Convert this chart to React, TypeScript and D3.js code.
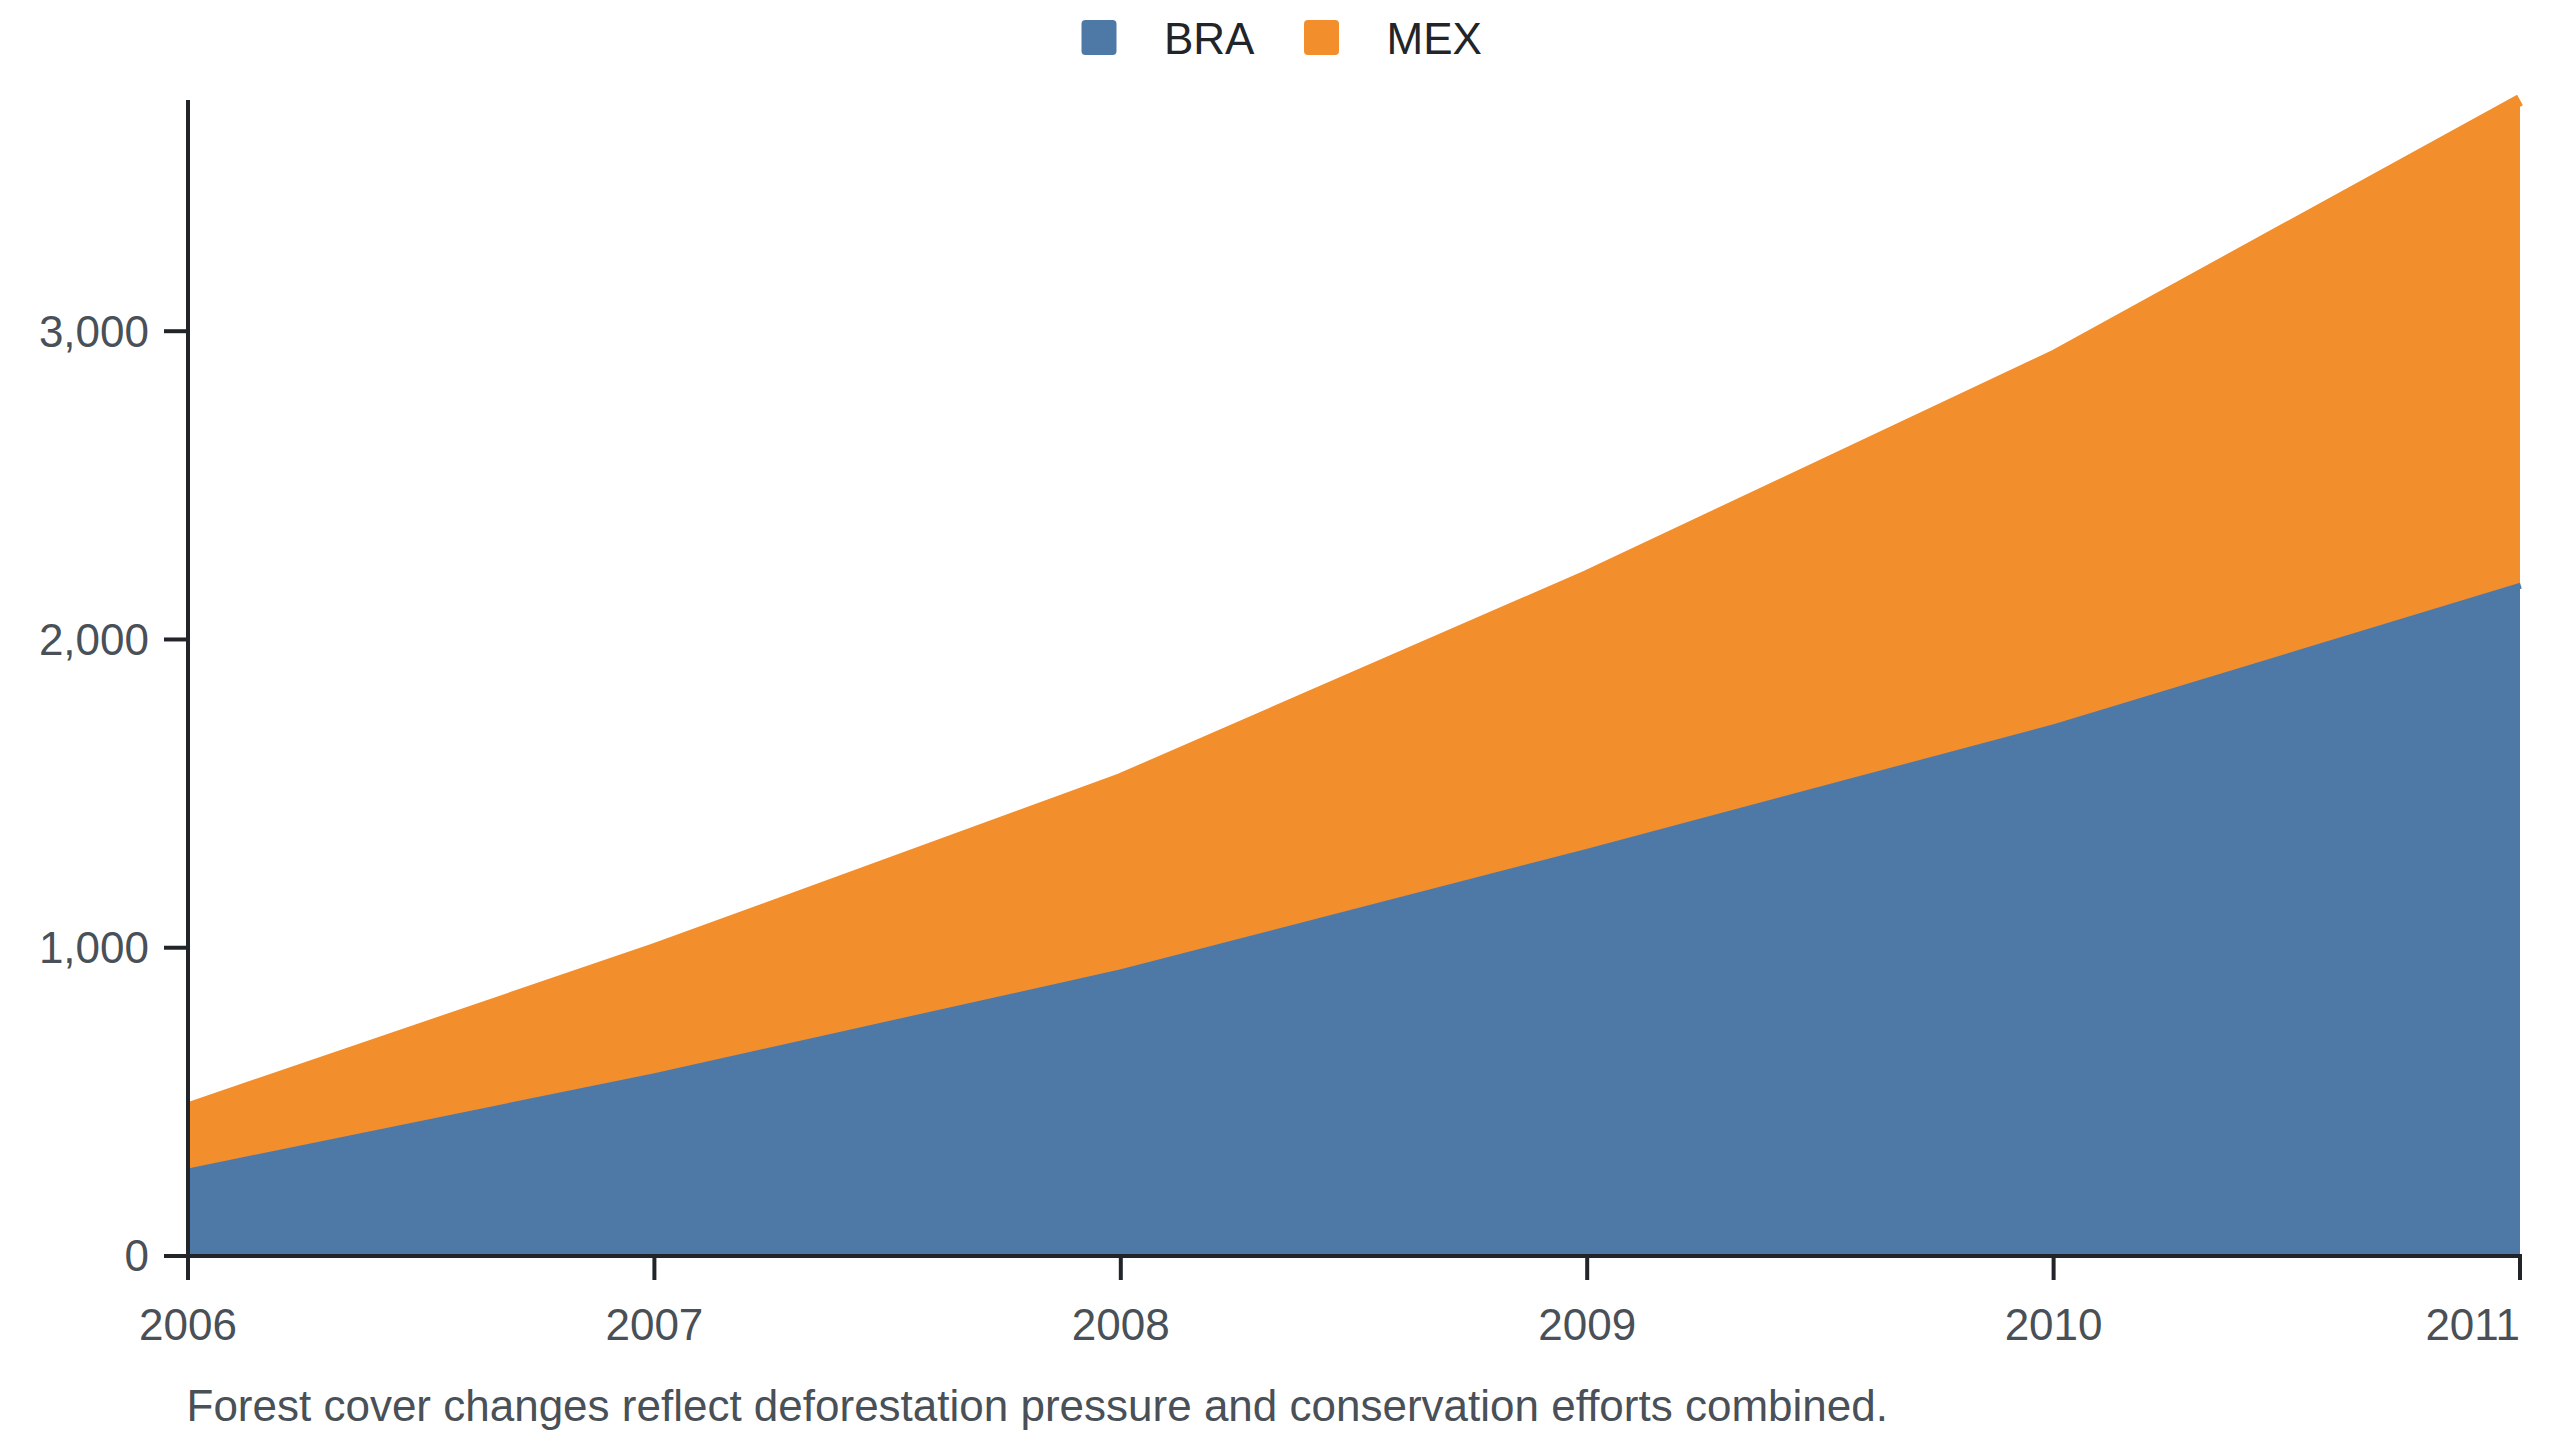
import React from "react";
import * as d3 from "d3";

const years = [2006, 2007, 2008, 2009, 2010, 2011];
const seriesNames = ["BRA", "MEX"];
const braValues = [284, 593, 930, 1321, 1725, 2184];
const mexValues = [195, 402, 617, 885, 1194, 1566];
const yTickValues = [0, 1000, 2000, 3000];
const caption = "Forest cover changes reflect deforestation pressure and conservation efforts combined.";

const colors: Record<string, string> = { BRA: "#4e79a7", MEX: "#f28e2c" };

const W = 2560;
const H = 1440;
const FONT = "'Liberation Sans', Arial, Helvetica, sans-serif";

export default function App() {
  const rows = years.map((y, i) => ({ year: y, BRA: braValues[i], MEX: mexValues[i] }));
  const stack = d3.stack<any>().keys(seriesNames);
  const layers = stack(rows);
  const maxTotal = d3.max(layers[layers.length - 1], (d) => d[1]) as number;

  const x = d3.scaleLinear().domain([years[0], years[years.length - 1]]).range([188, 2520]);
  const y = d3.scaleLinear().domain([0, maxTotal]).range([1256, 100]);

  const area = d3
    .area<any>()
    .x((d) => x(d.data.year))
    .y0((d) => y(d[0]))
    .y1((d) => y(d[1]));
  const line = d3
    .line<any>()
    .x((d) => x(d.data.year))
    .y((d) => y(d[1]));

  const axisColor = "#212529";
  const tickText = "#495057";
  const [x0, x1] = x.range();
  const [yb, yt] = y.range();

  return (
    <svg
      width={W}
      height={H}
      style={{ position: "absolute", left: 0, top: 0, background: "#fff" }}
      fontFamily={FONT}
    >
      {layers.map((layer) => (
        <g key={layer.key}>
          <path d={area(layer) || ""} fill={colors[layer.key]} />
          <path
            d={line(layer) || ""}
            fill="none"
            stroke={colors[layer.key]}
            strokeWidth={12}
            strokeLinejoin="miter"
          />
        </g>
      ))}

      {/* Y axis */}
      <line x1={x0} x2={x0} y1={yt} y2={yb + 2} stroke={axisColor} strokeWidth={4} />
      {yTickValues.map((v) => (
        <g key={v}>
          <line x1={x0 - 24} x2={x0} y1={y(v)} y2={y(v)} stroke={axisColor} strokeWidth={4} />
          <text
            x={x0 - 39}
            y={y(v)}
            dy="0.35em"
            textAnchor="end"
            fontSize={44}
            fill={tickText}
          >
            {d3.format(",")(v)}
          </text>
        </g>
      ))}

      {/* X axis */}
      <line x1={x0 - 2} x2={x1 + 2} y1={yb} y2={yb} stroke={axisColor} strokeWidth={4} />
      {years.map((yr, i) => (
        <g key={yr}>
          <line x1={x(yr)} x2={x(yr)} y1={yb} y2={yb + 24} stroke={axisColor} strokeWidth={4} />
          <text
            x={x(yr)}
            y={1340}
            textAnchor={i === years.length - 1 ? "end" : "middle"}
            fontSize={44}
            fill={tickText}
          >
            {yr}
          </text>
        </g>
      ))}

      {/* Legend */}
      {seriesNames.map((name, i) => (
        <g key={name} transform={`translate(${1081.5 + i * 222.5}, 20)`}>
          <rect width={35} height={35} rx={4} fill={colors[name]} />
          <text x={82.5} y={33.5} fontSize={44} fill="#212529">
            {name}
          </text>
        </g>
      ))}

      {/* Caption */}
      <text x={186.5} y={1420.5} fontSize={44} fill={tickText}>
        {caption}
      </text>
    </svg>
  );
}
